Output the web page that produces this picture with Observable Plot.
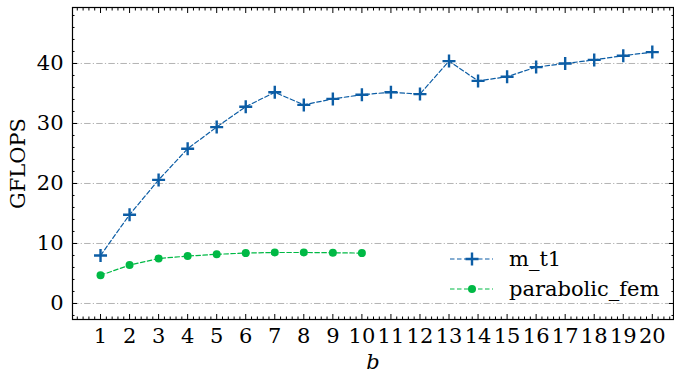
<!DOCTYPE html>
<html>
<head>
<meta charset="utf-8">
<script src="https://cdn.jsdelivr.net/npm/d3@7"></script>
<script src="https://cdn.jsdelivr.net/npm/@observablehq/plot@0.6"></script>
<style>
  html, body { margin: 0; padding: 0; background: #fff; }
  #chart { position: relative; width: 674px; height: 373px; font-family: "DejaVu Serif", serif; }
  #legend { position: absolute; left: 448px; top: 244px; font-family: "DejaVu Serif", serif; font-size: 21px; color: #000; }
  .row { display: flex; align-items: center; height: 30px; }
  .row svg { margin-right: 15px; }
</style>
</head>
<body>
<div id="chart"><div id="legend"></div></div>
<script>
const bValues = d3.range(1, 21);
const mT1 = [8.0, 14.8, 20.6, 25.8, 29.4, 32.8, 35.2, 33.1, 34.1, 34.8, 35.2, 34.9, 40.4, 37.1, 37.8, 39.4, 40.0, 40.6, 41.3, 41.9];
const parabolicFem = [4.7, 6.4, 7.5, 7.9, 8.2, 8.4, 8.5, 8.5, 8.45, 8.4];
const seriesNames = ["m_t1", "parabolic_fem"];
const colors = ["#0C5DA5", "#00B945"];
const yTicks = [0, 10, 20, 30, 40];
const xLabel = "b";
const yLabel = "GFLOPS";

const rows = [];
mT1.forEach((v, i) => rows.push({b: bValues[i], v, s: seriesNames[0]}));
parabolicFem.forEach((v, i) => rows.push({b: bValues[i], v, s: seriesNames[1]}));
const r1 = rows.filter(d => d.s === seriesNames[0]);
const r2 = rows.filter(d => d.s === seriesNames[1]);

const xMinor = d3.range(0.2, 20.8, 0.2).filter(t => Math.abs(t - Math.round(t)) > 1e-6);
const yMinor = d3.range(-2, 49, 2).filter(t => t % 10 !== 0);
const FS = 21;
const font = {fontFamily: "DejaVu Serif", fontSize: FS};
const none = () => "";

// stroked plus whose arm length equals the dot radius
const plusSymbol = {
  draw(context, size) {
    const a = Math.sqrt(size / Math.PI);
    context.moveTo(-a, 0); context.lineTo(a, 0);
    context.moveTo(0, -a); context.lineTo(0, a);
  }
};

const plot = Plot.plot({
  width: 674,
  height: 373,
  marginLeft: 72,
  marginRight: 1,
  marginTop: 7,
  marginBottom: 54,
  style: {fontFamily: "DejaVu Serif", fontSize: FS + "px", background: "white", color: "black"},
  x: {domain: [0.035, 20.73]},
  y: {domain: [-2.67, 49.33]},
  marks: [
    Plot.gridY(yTicks, {stroke: "#b3b3b3", strokeOpacity: 1, strokeWidth: 1, strokeDasharray: "6.5,2.2,1.2,2.2"}),
    Plot.lineY(r1, {x: "b", y: "v", stroke: colors[0], strokeWidth: 1.2, strokeDasharray: "4.5,2.5"}),
    Plot.lineY(r2, {x: "b", y: "v", stroke: colors[1], strokeWidth: 1.2, strokeDasharray: "4.5,2.5"}),
    Plot.dot(r1, {x: "b", y: "v", symbol: plusSymbol, stroke: colors[0], fill: "none", strokeWidth: 2.4, r: 6.5}),
    Plot.dot(r2, {x: "b", y: "v", fill: colors[1], r: 4}),
    Plot.axisX(bValues, {anchor: "bottom", tickSize: -5, tickPadding: 14, tickFormat: d => String(d), label: null, ...font}),
    Plot.axisX(bValues, {anchor: "top", tickSize: -5, tickFormat: none, label: null}),
    Plot.axisX(xMinor, {anchor: "bottom", tickSize: -2.5, tickFormat: none, label: null}),
    Plot.axisX(xMinor, {anchor: "top", tickSize: -2.5, tickFormat: none, label: null}),
    Plot.axisY(yTicks, {anchor: "left", tickSize: -5, tickPadding: 14, tickFormat: d => String(d), label: null, ...font}),
    Plot.axisY(yTicks, {anchor: "right", tickSize: -5, tickFormat: none, label: null}),
    Plot.axisY(yMinor, {anchor: "left", tickSize: -2.5, tickFormat: none, label: null}),
    Plot.axisY(yMinor, {anchor: "right", tickSize: -2.5, tickFormat: none, label: null}),
    Plot.frame({stroke: "#000", strokeWidth: 1.2}),
    Plot.text([yLabel], {frameAnchor: "left", rotate: -90, dx: -54, textAnchor: "middle", lineAnchor: "middle", fill: "black", ...font}),
    Plot.text([xLabel], {frameAnchor: "bottom", dy: 43, lineAnchor: "middle", fontStyle: "italic", fill: "black", ...font})
  ]
});
document.getElementById("chart").prepend(plot);

// legend
const legend = document.getElementById("legend");
const ns = "http://www.w3.org/2000/svg";
seriesNames.forEach((name, i) => {
  const row = document.createElement("div");
  row.className = "row";
  const svg = document.createElementNS(ns, "svg");
  svg.setAttribute("width", 46); svg.setAttribute("height", 16);
  const line = document.createElementNS(ns, "line");
  line.setAttribute("x1", 2); line.setAttribute("x2", 45); line.setAttribute("y1", 8); line.setAttribute("y2", 8);
  line.setAttribute("stroke", colors[i]); line.setAttribute("stroke-width", 1.2); line.setAttribute("stroke-dasharray", "4.5,2.5");
  svg.appendChild(line);
  if (i === 0) {
    const p = document.createElementNS(ns, "path");
    p.setAttribute("d", "M17.5,8H30.5M24,1.5V14.5");
    p.setAttribute("stroke", colors[i]); p.setAttribute("stroke-width", 2.4);
    svg.appendChild(p);
  } else {
    const c = document.createElementNS(ns, "circle");
    c.setAttribute("cx", 24); c.setAttribute("cy", 8); c.setAttribute("r", 4); c.setAttribute("fill", colors[i]);
    svg.appendChild(c);
  }
  row.appendChild(svg);
  const t = document.createElement("span");
  t.textContent = name;
  row.appendChild(t);
  legend.appendChild(row);
});
</script>
</body>
</html>
